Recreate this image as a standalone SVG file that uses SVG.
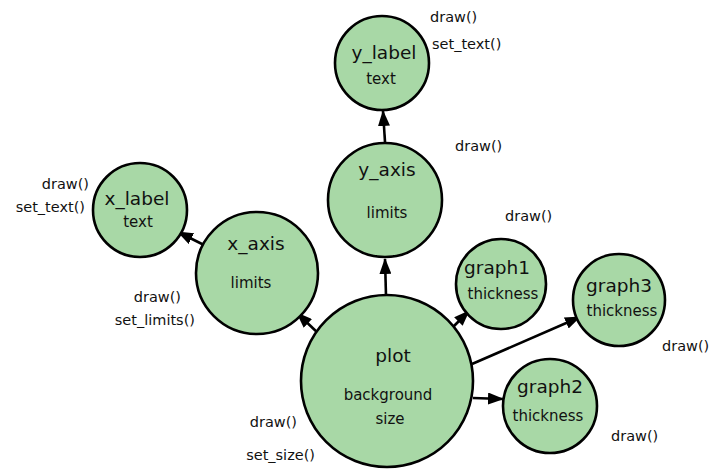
<svg xmlns="http://www.w3.org/2000/svg" width="714" height="475" viewBox="0 0 714 475">
  <style>
    .node circle { fill: #a8d8a6; stroke: #000; stroke-width: 2.6; }
    text { font-family: "DejaVu Sans", "Liberation Sans", sans-serif; fill: #111; }
    .title { font-size: 18.5px; text-anchor: middle; }
    .attr { font-size: 15px; text-anchor: middle; }
    .method { font-size: 14.5px; }
    .edges line { stroke: #000; stroke-width: 2.6; marker-end: url(#arrow); }
  </style>
  <defs>
    <marker id="arrow" viewBox="0 0 16 12" refX="15" refY="6" markerWidth="16" markerHeight="12" markerUnits="userSpaceOnUse" orient="auto">
      <path d="M0,0 L16,6 L0,12 z" fill="#000"/>
    </marker>
  </defs>
  <rect width="714" height="475" fill="#fff"/>

  <g class="edges">
    <line x1="385" y1="142" x2="383" y2="111"/>
    <line x1="206" y1="246" x2="178" y2="232"/>
    <line x1="320" y1="335" x2="297" y2="313"/>
    <line x1="386" y1="296" x2="385" y2="259"/>
    <line x1="450" y1="330" x2="469" y2="311"/>
    <line x1="472" y1="364" x2="580" y2="317"/>
    <line x1="473" y1="398" x2="503" y2="399"/>
  </g>

  <g id="y_label" class="node">
    <circle cx="382" cy="63" r="47"/>
    <text class="title" x="384" y="59">y_label</text>
    <text class="attr" x="381" y="84">text</text>
  </g>
  <text class="method" x="430" y="22">draw()</text>
  <text class="method" x="432" y="49">set_text()</text>

  <g id="y_axis" class="node">
    <circle cx="385" cy="200" r="57"/>
    <text class="title" x="387" y="176">y_axis</text>
    <text class="attr" x="387" y="218">limits</text>
  </g>
  <text class="method" x="455" y="151">draw()</text>

  <g id="x_label" class="node">
    <circle cx="140" cy="210" r="47"/>
    <text class="title" x="137" y="205">x_label</text>
    <text class="attr" x="138" y="227">text</text>
  </g>
  <text class="method" x="89" y="189" text-anchor="end">draw()</text>
  <text class="method" x="85" y="212" text-anchor="end">set_text()</text>

  <g id="x_axis" class="node">
    <circle cx="257" cy="273" r="61"/>
    <text class="title" x="256" y="250">x_axis</text>
    <text class="attr" x="251" y="288">limits</text>
  </g>
  <text class="method" x="181" y="302" text-anchor="end">draw()</text>
  <text class="method" x="195" y="325" text-anchor="end">set_limits()</text>

  <g id="plot" class="node">
    <circle cx="387" cy="381" r="86"/>
    <text class="title" x="393" y="362">plot</text>
    <text class="attr" x="388" y="400">background</text>
    <text class="attr" x="390" y="424">size</text>
  </g>
  <text class="method" x="297" y="427" text-anchor="end">draw()</text>
  <text class="method" x="315" y="460" text-anchor="end">set_size()</text>

  <g id="graph1" class="node">
    <circle cx="501" cy="284" r="45"/>
    <text class="title" x="497" y="274">graph1</text>
    <text class="attr" x="503" y="299">thickness</text>
  </g>
  <text class="method" x="505" y="221">draw()</text>

  <g id="graph3" class="node">
    <circle cx="619" cy="300" r="46"/>
    <text class="title" x="619" y="292">graph3</text>
    <text class="attr" x="622" y="316">thickness</text>
  </g>
  <text class="method" x="662" y="351">draw()</text>

  <g id="graph2" class="node">
    <circle cx="550" cy="406" r="47"/>
    <text class="title" x="550" y="393">graph2</text>
    <text class="attr" x="548" y="421">thickness</text>
  </g>
  <text class="method" x="611" y="441">draw()</text>
</svg>
